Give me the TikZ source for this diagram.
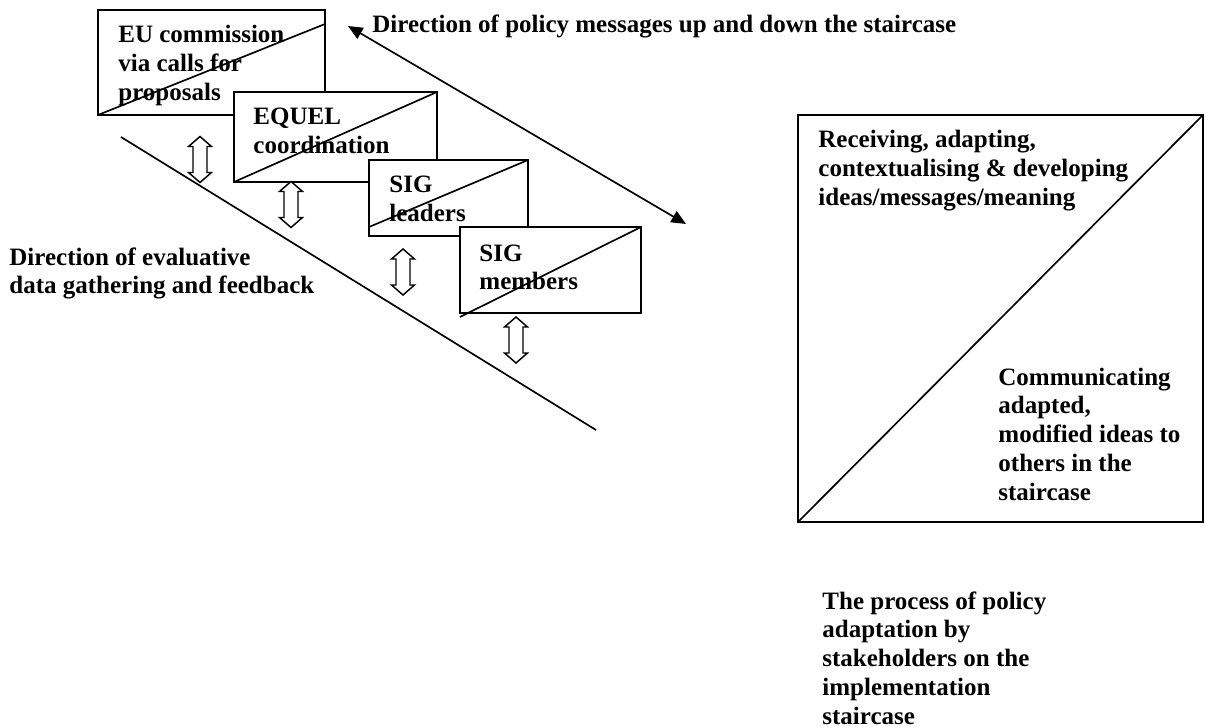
\documentclass[tikz,border=0pt]{standalone}
\usepackage{fontspec}
\setmainfont{Liberation Serif}
\usetikzlibrary{arrows.meta,calc}
\usepackage{xcolor}
\definecolor{lineblack}{RGB}{0,0,0}

\begin{document}
\begin{tikzpicture}[x=0.48pt, y=-0.48pt, font=\fontsize{12pt}{13.8pt}\selectfont\bfseries,
  stairbox/.style={rectangle, draw=lineblack, fill=white, line width=0.9pt, inner sep=0pt, outer sep=0pt, anchor=north west},
  boxtext/.style={anchor=base west, align=left, inner sep=0pt},
  updown/.pic={\draw[draw=lineblack, fill=white, line width=0.7pt] (0,-23) -- (11.5,-13) -- (7,-13) -- (7,13) -- (11.5,13) -- (0,23) -- (-11.5,13) -- (-7,13) -- (-7,-13) -- (-11.5,-13) -- cycle;}]
\useasboundingbox (0,0) rectangle (1205,727);

\node[stairbox, minimum width=108.96pt, minimum height=50.4pt] (eu) at (98,10) {};
\draw[draw=lineblack, line width=0.8pt] (eu.south west) -- ($(eu.north east)+(0,14)$);
\node[boxtext] (eutext) at (118,100.5) {EU commission\\via calls for\\proposals};

\node[stairbox, minimum width=97.44pt, minimum height=43.2pt] (equel) at (234,92) {};
\draw[draw=lineblack, line width=0.8pt] (equel.south west) -- (equel.north east);
\node[boxtext] (equeltext) at (253,153.75) {EQUEL\\coordination};

\node[stairbox, minimum width=76.32pt, minimum height=36.48pt] (sigl) at (369,160) {};
\draw[draw=lineblack, line width=0.8pt] ($(sigl.south west)+(0,-9)$) -- (sigl.north east);
\node[boxtext] (sigltext) at (389,221.75) {SIG\\leaders};

\node[stairbox, minimum width=86.88pt, minimum height=41.28pt] (sigm) at (460,227) {};
\draw[draw=lineblack, line width=0.8pt] ($(sigm.south west)+(0,4)$) -- (sigm.north east);
\node[boxtext] (sigmtext) at (479,289.75) {SIG\\members};

\coordinate (stairtop) at (121,137);
\coordinate (stairfoot) at (596,430);
\draw[draw=lineblack, line width=0.8pt] (stairtop) -- (stairfoot);

\pic at (200,159.5) {updown};
\pic at (291,204.5) {updown};
\pic at (403,272) {updown};
\pic at (516,340) {updown};

\coordinate (msgtop) at (348,26);
\coordinate (msgfoot) at (686,224);
\draw[{Triangle[length=7pt, width=6pt]}-{Triangle[length=7pt, width=6pt]}, draw=lineblack, line width=0.8pt] (msgtop) -- (msgfoot);
\node[boxtext] (msgtext) at (372,33) {Direction of policy messages up and down the staircase};
\node[boxtext] (evaltext) at (9,293.75) {Direction of evaluative\\data gathering and feedback};

\node[stairbox, minimum width=194.4pt, minimum height=195.36pt] (proc) at (798,115) {};
\draw[draw=lineblack, line width=0.8pt] (proc.south west) -- (proc.north east);
\node[boxtext] (recvtext) at (818,205.5) {Receiving, adapting,\\contextualising \& developing\\ideas/messages/meaning};
\node[boxtext] (commtext) at (998,500) {Communicating\\adapted,\\modified ideas to\\others in the\\staircase};

\node[boxtext] (caption) at (822,724) {The process of policy\\adaptation by\\stakeholders on the\\implementation\\staircase};
\end{tikzpicture}
\end{document}
